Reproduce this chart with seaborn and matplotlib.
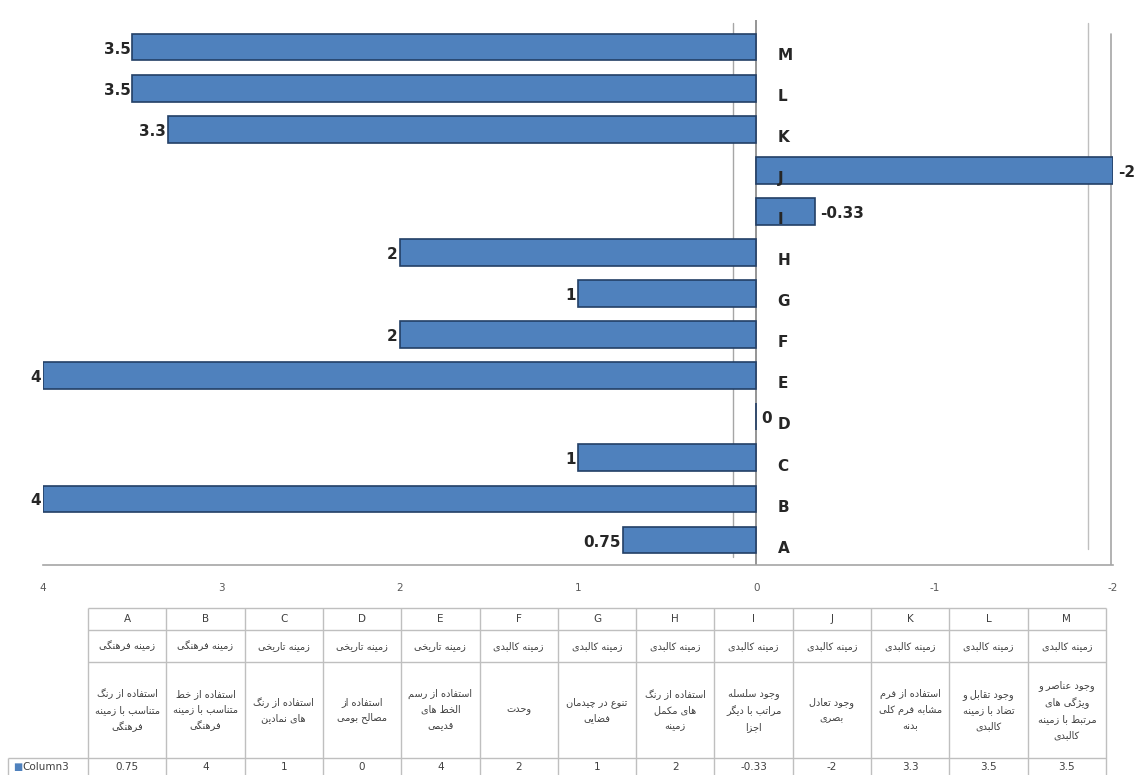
import matplotlib
matplotlib.use('Agg')
import matplotlib.pyplot as plt
import seaborn as sns
import pandas as pd

# data (A..M, drawn bottom to top)
codes = ['A', 'B', 'C', 'D', 'E', 'F', 'G', 'H', 'I', 'J', 'K', 'L', 'M']
values = [0.75, 4, 1, 0, 4, 2, 1, 2, -0.33, -2, 3.3, 3.5, 3.5]
value_labels = ['0.75', '4', '1', '0', '4', '2', '1', '2', '-0.33', '-2', '3.3', '3.5', '3.5']
contexts = ['زمینه فرهنگی', 'زمینه فرهنگی', 'زمینه تاریخی', 'زمینه تاریخی', 'زمینه تاریخی',
            'زمینه کالبدی', 'زمینه کالبدی', 'زمینه کالبدی', 'زمینه کالبدی', 'زمینه کالبدی',
            'زمینه کالبدی', 'زمینه کالبدی', 'زمینه کالبدی']
criteria = [
    'استفاده از رنگ\nمتناسب با زمینه\nفرهنگی',
    'استفاده از خط\nمتناسب با زمینه\nفرهنگی',
    'استفاده از رنگ\nهای نمادین',
    'استفاده از\nمصالح بومی',
    'استفاده از رسم\nالخط های\nقدیمی',
    'وحدت',
    'تنوع در چیدمان\nفضایی',
    'استفاده از رنگ\nهای مکمل\nزمینه',
    'وجود سلسله\nمراتب با دیگر\nاجزا',
    'وجود تعادل\nبصری',
    'استفاده از فرم\nمشابه فرم کلی\nبدنه',
    'وجود تقابل و\nتضاد با زمینه\nکالبدی',
    'وجود عناصر و\nویژگی های\nمرتبط با زمینه\nکالبدی',
]
series_name = 'Column3'
x_ticks = [4, 3, 2, 1, 0, -1, -2]

BAR = '#4F81BD'
EDGE = '#233F66'
GRID = '#BFBFBF'
TXT = '#404040'

# Arabic / Persian presentation forms: (isolated, final, initial, medial)
FORMS = {
    'ا': ('\uFE8D', '\uFE8E', None, None), 'آ': ('\uFE81', '\uFE82', None, None),
    'ب': ('\uFE8F', '\uFE90', '\uFE91', '\uFE92'), 'ت': ('\uFE95', '\uFE96', '\uFE97', '\uFE98'),
    'ث': ('\uFE99', '\uFE9A', '\uFE9B', '\uFE9C'), 'ج': ('\uFE9D', '\uFE9E', '\uFE9F', '\uFEA0'),
    'ح': ('\uFEA1', '\uFEA2', '\uFEA3', '\uFEA4'), 'خ': ('\uFEA5', '\uFEA6', '\uFEA7', '\uFEA8'),
    'د': ('\uFEA9', '\uFEAA', None, None), 'ذ': ('\uFEAB', '\uFEAC', None, None),
    'ر': ('\uFEAD', '\uFEAE', None, None), 'ز': ('\uFEAF', '\uFEB0', None, None),
    'س': ('\uFEB1', '\uFEB2', '\uFEB3', '\uFEB4'), 'ش': ('\uFEB5', '\uFEB6', '\uFEB7', '\uFEB8'),
    'ص': ('\uFEB9', '\uFEBA', '\uFEBB', '\uFEBC'), 'ض': ('\uFEBD', '\uFEBE', '\uFEBF', '\uFEC0'),
    'ط': ('\uFEC1', '\uFEC2', '\uFEC3', '\uFEC4'), 'ظ': ('\uFEC5', '\uFEC6', '\uFEC7', '\uFEC8'),
    'ع': ('\uFEC9', '\uFECA', '\uFECB', '\uFECC'), 'غ': ('\uFECD', '\uFECE', '\uFECF', '\uFED0'),
    'ف': ('\uFED1', '\uFED2', '\uFED3', '\uFED4'), 'ق': ('\uFED5', '\uFED6', '\uFED7', '\uFED8'),
    'ل': ('\uFEDD', '\uFEDE', '\uFEDF', '\uFEE0'), 'م': ('\uFEE1', '\uFEE2', '\uFEE3', '\uFEE4'),
    'ن': ('\uFEE5', '\uFEE6', '\uFEE7', '\uFEE8'), 'ه': ('\uFEE9', '\uFEEA', '\uFEEB', '\uFEEC'),
    'و': ('\uFEED', '\uFEEE', None, None),
    'پ': ('\uFB56', '\uFB57', '\uFB58', '\uFB59'), 'چ': ('\uFB7A', '\uFB7B', '\uFB7C', '\uFB7D'),
    'ژ': ('\uFB8A', '\uFB8B', None, None), 'ک': ('\uFB8E', '\uFB8F', '\uFB90', '\uFB91'),
    'گ': ('\uFB92', '\uFB93', '\uFB94', '\uFB95'), 'ی': ('\uFBFC', '\uFBFD', '\uFBFE', '\uFBFF'),
}


def joins_next(ch):
    return ch in FORMS and FORMS[ch][2] is not None


def shape_line(line):
    out = []
    i = 0
    while i < len(line):
        ch = line[i]
        if ch not in FORMS:
            out.append(ch)
            i += 1
            continue
        prev = line[i - 1] if i > 0 else ''
        nxt = line[i + 1] if i + 1 < len(line) else ''
        after = joins_next(prev)
        if ch == 'ل' and nxt == 'ا':
            out.append('\uFEFC' if after else '\uFEFB')
            i += 2
            continue
        before = joins_next(ch) and nxt in FORMS
        isol, fina, init, medi = FORMS[ch]
        if after and before:
            out.append(medi)
        elif after:
            out.append(fina)
        elif before:
            out.append(init)
        else:
            out.append(isol)
        i += 1
    return ''.join(reversed(out))


def fa(text):
    return '\n'.join(shape_line(l) for l in text.split('\n'))


sns.set_style('white')
plt.rcParams['font.family'] = ['DejaVu Sans']

W, H = 1137, 775
fig = plt.figure(figsize=(W / 100, H / 100), dpi=100)

# ---- bar chart ----
ax = fig.add_axes([43 / W, 1 - 565 / H, 1070 / W, 545 / H])
df = pd.DataFrame({'code': codes, 'value': values})
order = codes[::-1]
sns.barplot(data=df, x='value', y='code', order=order, orient='h', color=BAR,
            width=0.65, edgecolor=EDGE, linewidth=1.2, saturation=1, ax=ax)

ax.set_xlim(4, -2)
ax.set_ylim(12.61, -0.66)
ax.set_xticks(x_ticks)
ax.set_xticklabels([str(t) for t in x_ticks], fontsize=7.5, color='#595959')
ax.tick_params(axis='x', length=0, pad=13)
ax.set_yticks([])
ax.set_xlabel('')
ax.set_ylabel('')
for s in ['top', 'left', 'right']:
    ax.spines[s].set_visible(False)
ax.spines['bottom'].set_color('#A6A6A6')
ax.spines['bottom'].set_linewidth(1.2)

# walls of the 3d frame
ax.axvline(0, color='#8C8C8C', lw=1.3, zorder=0)
ax.axvline(0.13, ymin=0.015, ymax=0.995, color='#A6A6A6', lw=1.0, zorder=0)
ax.axvline(-1.86, ymin=0.03, ymax=0.995, color='#BFBFBF', lw=1.0, zorder=0)
ax.axvline(-1.99, ymin=0.0, ymax=0.975, color='#A6A6A6', lw=1.2, zorder=0)

for i, code in enumerate(order):
    k = codes.index(code)
    v = values[k]
    if v > 0:
        ax.text(v + 0.01, i + 0.05, value_labels[k], ha='right', va='center',
                fontsize=11, fontweight='bold', color='#262626', clip_on=False)
    else:
        ax.text(v - 0.03, i + 0.05, value_labels[k], ha='left', va='center',
                fontsize=11, fontweight='bold', color='#262626', clip_on=False)
    ax.text(-0.12, i + 0.2, code, ha='left', va='center', fontsize=11,
            fontweight='bold', color='#262626')

# ---- data table ----
tax = fig.add_axes([0, 0, 1, 1], zorder=-1)
tax.set_xlim(0, W)
tax.set_ylim(H, 0)
tax.axis('off')

x0, cw = 88, (1106 - 88) / len(codes)
rows_y = [608, 630, 662, 758, 777]
col_x = [x0 + j * cw for j in range(len(codes) + 1)]
for y in rows_y:
    tax.hlines(y, col_x[0], col_x[-1], color=GRID, lw=1)
tax.vlines(col_x, rows_y[0], rows_y[-1], color=GRID, lw=1)
# row label cell
tax.hlines([758, 777], 8, x0, color=GRID, lw=1)
tax.vlines(8, 758, 777, color=GRID, lw=1)
tax.text(13, 767, '■', color=BAR, fontsize=7, va='center', ha='left')
tax.text(22, 767, series_name, color=TXT, fontsize=7.5, va='center', ha='left')

for j, code in enumerate(codes):
    cx = (col_x[j] + col_x[j + 1]) / 2
    tax.text(cx, 619, code, ha='center', va='center', fontsize=7.5, color=TXT)
    tax.text(cx, 646, fa(contexts[j]), ha='center', va='center', fontsize=7, color=TXT)
    tax.text(cx, 710, fa(criteria[j]), ha='center', va='center', fontsize=7,
             color=TXT, linespacing=1.7)
    tax.text(cx, 767, value_labels[j], ha='center', va='center', fontsize=7.5, color=TXT)

fig.savefig('out.png', dpi=100)
